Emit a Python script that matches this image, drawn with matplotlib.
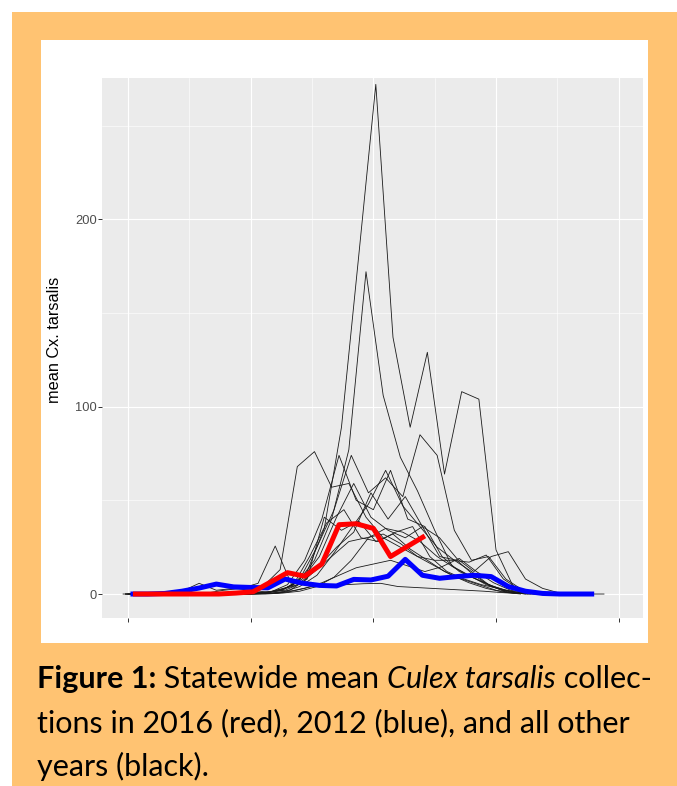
"""
Statewide mean Culex tarsalis, weekly means by day of year
"""
import numpy as np
import matplotlib.pyplot as plt
from matplotlib.patches import Rectangle

# 2016 (red) and 2012 (blue): first sample day of year + weekly means
red_start = 102
red_vals = [0, 0, 0, 0, 0, 0, 0.5, 1.2, 6.3, 11.4, 9.5, 16, 37, 37.5, 35, 20, 25.5, 31]
blue_start = 101
blue_vals = [0, 0, 0.3, 1.5, 3.2, 5.3, 3.8, 3.5, 3.3, 8, 5.8, 4.6, 4.3, 7.8, 7.5, 9.5,
             18.5, 10, 8.4, 9.3, 10, 9.3, 4, 1.5, 0.3, 0, 0, 0]

# all other years (black)
black_a = [0, 0, 0, 0, 0, 0, 0.2, 0.5, 1.5, 4, 12, 35, 89, 180, 272, 137, 89, 129, 64, 108, 104, 23.5, 4, 1, 0.3, 0]
black_b = [0, 0, 0, 0, 0, 0, 0, 0.3, 0.5, 2, 6, 18, 40, 77, 172, 106, 73, 55, 34, 15, 10, 5, 2, 0.5, 0]
black_c = [0, 0, 0, 0, 0.5, 2, 3, 5.7, 25.6, 4, 20, 38, 45, 30, 28, 33, 36, 20, 12, 8, 5, 3, 1, 0.3, 0]
black_d = [0, 0, 0, 0, 0, 0, 0.5, 1, 4, 13, 68, 76, 57, 59, 41, 30, 25, 20, 15, 10, 6, 3, 1, 0]
black_e = [0, 0, 0, 0, 0, 0, 0, 0.5, 1, 5, 18, 40, 74, 50, 45, 66, 40, 36, 20, 12, 8, 4, 1, 0]
black_f = [0, 0, 0, 0, 0, 0, 0, 0, 0.5, 2, 8, 25, 45, 74, 54, 62, 52, 85, 74, 34, 18, 20, 8, 2, 0.5, 0]
black_g = [0, 0, 0, 0, 0, 0, 0, 0, 0.2, 0.5, 2, 4, 4.5, 5, 5.5, 5.7, 4, 3.5, 3, 2.5, 2, 1.5, 0.8, 0.3, 0, 0, 0, 0, 0]
black_h = [0, 0, 0, 1.5, 5.7, 2, 3, 2, 1, 2, 6, 15, 25, 33, 54, 40, 52, 36, 20, 18, 10, 4, 1, 0]
black_i = [0, 0, 0, 0, 0, 0, 0, 0, 0.3, 1, 4, 10, 22, 35, 48, 66, 47, 36, 25, 18, 12, 5, 1, 0.3, 0]
black_j = [0, 0, 0, 0, 0, 0, 0, 0.5, 1, 3, 8, 20, 41, 59, 41, 34, 30, 36, 30, 19, 12, 20, 22.6, 8, 3, 0.5, 0]
black_k = [0, 0, 0, 0, 0, 0, 0, 0, 0.5, 2, 5, 12, 20, 28, 30, 32, 27, 20, 18, 18, 17, 20.8, 8, 2, 0.5, 0]
black_l = [0, 0, 0, 0, 0, 0, 0, 0, 0.3, 1, 3, 6, 10, 14, 16, 18, 15, 12, 14.6, 19, 12, 6, 2, 0.5, 0]
black_m = [0, 0, 0, 0, 0, 0, 0, 0, 0, 0.5, 1.5, 4, 9, 18, 30, 35, 33, 28, 20, 14, 9, 5, 2, 0.5, 0]
black_n = [0, 0, 0, 0, 0, 0, 0, 0.2, 0.5, 2, 8, 41, 34, 39, 28, 32, 24, 18, 12, 8, 5, 2, 0.5, 0]
black_lines = [black_a, black_b, black_c, black_d, black_e, black_f, black_g,
               black_h, black_i, black_j, black_k, black_l, black_m, black_n]
black_starts = [103, 99, 104, 99, 102, 100, 98, 101, 100, 101, 99, 102, 100, 103]

y_ticks = [0, 100, 200]
y_label = 'mean Cx. tarsalis'

W, H = 677, 786
fig = plt.figure(figsize=(W / 100, H / 100), dpi=100)
fig.patch.set_facecolor('white')


def fx(px):
    return px / W


def fy(py):
    return 1 - py / H


# 橙色底 + 白色图框
fig.add_artist(Rectangle((fx(12), 0), 1 - fx(12), fy(12), transform=fig.transFigure,
                         facecolor='#FFC372', edgecolor='none', zorder=-2))
fig.add_artist(Rectangle((fx(41), fy(643)), fx(648) - fx(41), fy(40) - fy(643),
                         transform=fig.transFigure, facecolor='white', edgecolor='none', zorder=-1))

ax = fig.add_axes([fx(102), fy(618), (643 - 102) / W, (618 - 78) / H])
ax.set_facecolor('#EBEBEB')
for s in ax.spines.values():
    s.set_visible(False)

for start, vals in zip(black_starts, black_lines):
    days = start + 7 * np.arange(len(vals))
    ax.plot(days, vals, color='#1A1A1A', lw=0.6, solid_joinstyle='round')

ax.plot(blue_start + 7 * np.arange(len(blue_vals)), blue_vals, color='#0000FF', lw=3.6,
        solid_capstyle='butt', solid_joinstyle='round')
ax.plot(red_start + 7 * np.arange(len(red_vals)), red_vals, color='#FF0000', lw=3.6,
        solid_capstyle='butt', solid_joinstyle='round')

ax.set_xlim(89.4, 309.9)
ax.set_ylim(-12.8, 275.4)
ax.set_xticks([100, 150, 200, 250, 300])
ax.set_xticks([125, 175, 225, 275], minor=True)
ax.set_xticklabels([''] * 5)
ax.set_yticks(y_ticks)
ax.set_yticks([50, 150, 250], minor=True)
ax.set_yticklabels([str(v) for v in y_ticks], color='#4D4D4D', fontsize=9.3, family='Liberation Sans')
ax.grid(which='major', color='white', lw=0.8)
ax.grid(which='minor', color='white', lw=0.4)
ax.set_axisbelow(True)
ax.tick_params(which='major', length=2.6, width=0.7, color='#333333', pad=0.9)
ax.tick_params(which='minor', length=0)

fig.text(fx(54.5), fy(340), y_label, rotation=90, ha='center', va='center',
         fontsize=11.7, family='Liberation Sans', color='black')

# 图注 (Figure 1 caption), 三行
renderer = fig.canvas.get_renderer()
line1 = [('Figure 1:', 'bold', 'normal'), (' Statewide mean ', 'normal', 'normal'),
         ('Culex tarsalis', 'normal', 'italic'), (' collec-', 'normal', 'normal')]
line2 = [('tions in 2016 (red), 2012 (blue), and all other', 'normal', 'normal')]
line3 = [('years (black).', 'normal', 'normal')]


def draw_line(pieces, px, py, size):
    x = fx(px)
    for txt, weight, style in pieces:
        t = fig.text(x, fy(py), txt, fontsize=size, fontweight=weight, fontstyle=style,
                     family='Lato', color='black', ha='left', va='baseline')
        x += t.get_window_extent(renderer).width / W
    return (x - fx(px)) * W


size = 17.0
probe = draw_line(line1, -2000, -2000, size)
for t in list(fig.texts[-len(line1):]):
    t.remove()
size = size * 615 / probe

draw_line(line1, 37, 688, size)
draw_line(line2, 37, 732, size)
draw_line(line3, 37, 776, size)

plt.savefig('out.png', dpi=100, facecolor=fig.get_facecolor())
